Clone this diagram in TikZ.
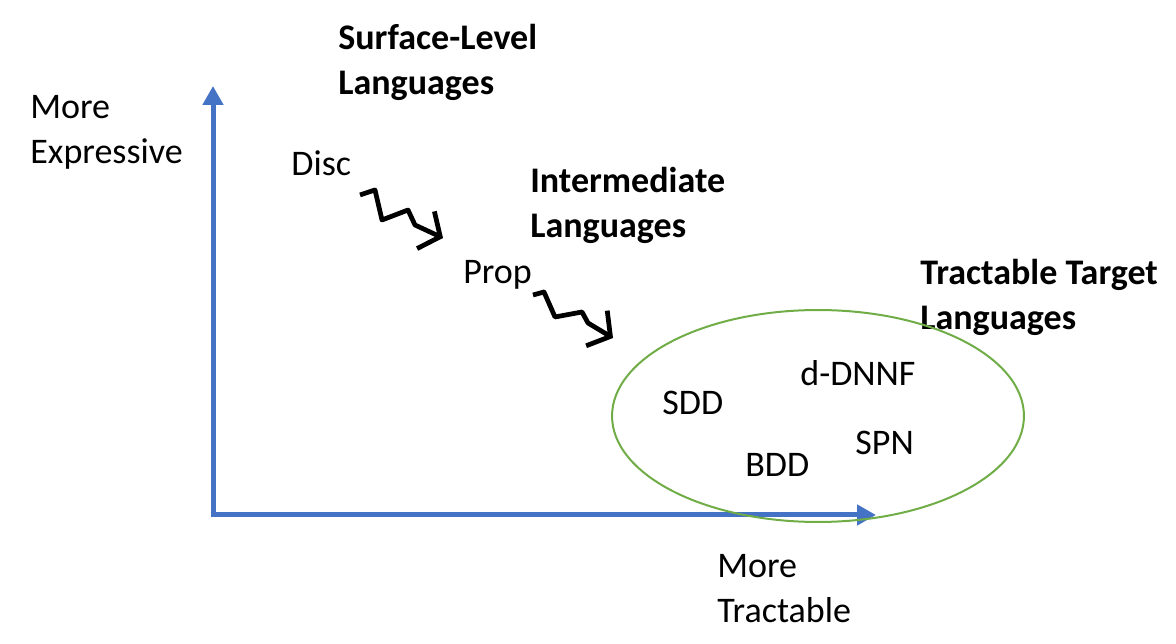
\documentclass[tikz,border=0pt]{standalone}
\usepackage{fontspec}
\setmainfont{Carlito}
\usepackage{tikz}
\usetikzlibrary{arrows.meta,positioning,shapes.geometric}

\definecolor{axisblue}{HTML}{4472C4}
\definecolor{setgreen}{HTML}{70AD47}

\tikzset{
  axisline/.style={line width=0.1cm, draw=axisblue, -{Triangle[length=0.38cm,width=0.4cm]}},
  squiggle/.style={line width=0.095cm, line join=round, -{Straight Barb[length=0.32cm,width=0.82cm]}},
  heading/.style={anchor=west, align=left, font=\fontsize{20.5}{25.6}\selectfont\bfseries},
  lang/.style={anchor=west}
}

\begin{document}
\begin{tikzpicture}[x=0.02cm, y=-0.02cm, >=Latex, every node/.style={inner sep=0pt, font=\fontsize{20.5}{25.6}\selectfont}]
\useasboundingbox (0,0) rectangle (1176,644);

% axes
\coordinate (origin) at (213,515);
\coordinate (ytip) at (213,86);
\coordinate (xtip) at (876,515);
\draw[axisline] ([yshift=-0.05cm]origin) -- (ytip);
\draw[axisline] ([xshift=-0.05cm]origin) -- (xtip);
\node[anchor=west, align=left] (ylab) at (30,132) {More\\Expressive};
\node[anchor=west, align=left] (xlab) at (717,589) {More\\Tractable};

% levels
\node[heading] (surf) at (338,62) {Surface-Level\\Languages};
\node[heading] (inter) at (530,205) {Intermediate\\Languages};
\node[heading] (tract) at (920,297) {Tractable Target\\Languages};

\node[lang] (disc) at (291,163) {Disc};
\node[lang] (prop) at (463,275) {Prop};

% target set
\node[draw=setgreen, line width=0.04cm, ellipse, minimum width=8.24cm, minimum height=4.24cm] (tgt) at (818,416) {};
\node[lang] (sdd) at (662,403) {SDD};
\node[lang] (dnnf) at (800,373) {d-DNNF};
\node[lang] (spn) at (855,443) {SPN};
\node[lang] (bdd) at (745,465) {BDD};

% compilation steps
\draw[squiggle] (360,195) -- (375,190) -- (382,220) -- (408,210) -- (415,225) -- (443,238);
\draw[squiggle] (533,295) -- (544,292) -- (555,317) -- (582,312) -- (588,323) -- (613,338);
\end{tikzpicture}
\end{document}
